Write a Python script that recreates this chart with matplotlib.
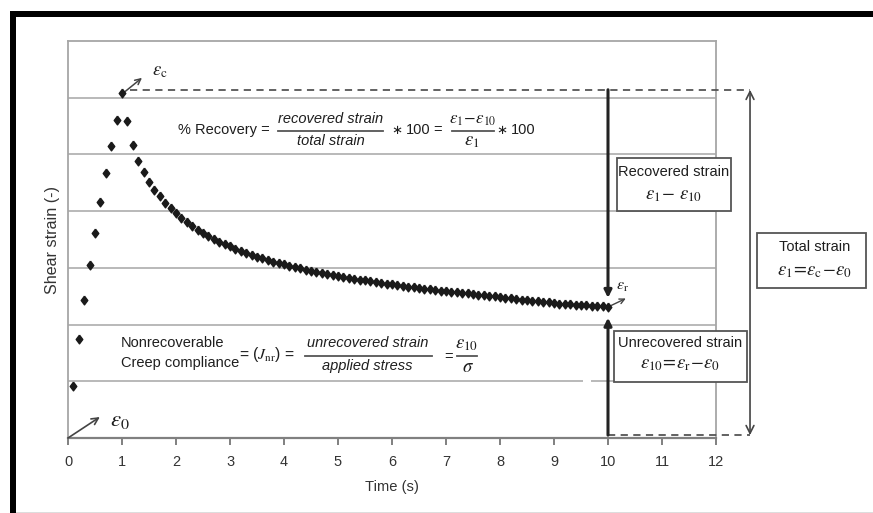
import matplotlib
matplotlib.use('Agg')
import matplotlib.pyplot as plt
from matplotlib import font_manager
from matplotlib.patches import Rectangle

# data (strain in grid units, 0..7)
time_s = [0.1, 0.2, 0.3, 0.4, 0.5, 0.6, 0.7, 0.8, 0.9, 1.0,
          1.1, 1.2, 1.3, 1.4, 1.5, 1.6, 1.7, 1.8, 1.9, 2.0,
          2.1, 2.2, 2.3, 2.4, 2.5, 2.6, 2.7, 2.8, 2.9, 3.0,
          3.1, 3.2, 3.3, 3.4, 3.5, 3.6, 3.7, 3.8, 3.9, 4.0,
          4.1, 4.2, 4.3, 4.4, 4.5, 4.6, 4.7, 4.8, 4.9, 5.0,
          5.1, 5.2, 5.3, 5.4, 5.5, 5.6, 5.7, 5.8, 5.9, 6.0,
          6.1, 6.2, 6.3, 6.4, 6.5, 6.6, 6.7, 6.8, 6.9, 7.0,
          7.1, 7.2, 7.3, 7.4, 7.5, 7.6, 7.7, 7.8, 7.9, 8.0,
          8.1, 8.2, 8.3, 8.4, 8.5, 8.6, 8.7, 8.8, 8.9, 9.0,
          9.1, 9.2, 9.3, 9.4, 9.5, 9.6, 9.7, 9.8, 9.9, 10.0]
shear_strain = [0.91, 1.75, 2.43, 3.05, 3.61, 4.16, 4.68, 5.15, 5.60, 6.08,
                5.59, 5.17, 4.89, 4.69, 4.52, 4.38, 4.26, 4.15, 4.05, 3.96,
                3.88, 3.80, 3.73, 3.67, 3.61, 3.56, 3.51, 3.46, 3.42, 3.38,
                3.34, 3.30, 3.26, 3.23, 3.20, 3.17, 3.14, 3.11, 3.08, 3.06,
                3.03, 3.01, 2.99, 2.97, 2.95, 2.93, 2.91, 2.89, 2.87, 2.86,
                2.84, 2.82, 2.81, 2.79, 2.78, 2.76, 2.75, 2.73, 2.72, 2.71,
                2.69, 2.68, 2.67, 2.66, 2.64, 2.63, 2.62, 2.61, 2.60, 2.59,
                2.58, 2.57, 2.56, 2.55, 2.54, 2.53, 2.52, 2.51, 2.50, 2.48,
                2.47, 2.46, 2.45, 2.44, 2.43, 2.42, 2.41, 2.40, 2.39, 2.38,
                2.37, 2.36, 2.36, 2.35, 2.34, 2.34, 2.33, 2.32, 2.32, 2.31]
x_ticks = [0, 1, 2, 3, 4, 5, 6, 7, 8, 9, 10, 11, 12]
grid_levels = [1, 2, 3, 4, 5, 6]

# narrow font if there is one, else shrink the regular one
try:
    font_manager.findfont('Liberation Sans Narrow', fallback_to_default=False)
    base_font, k = 'Liberation Sans Narrow', 1.0
except ValueError:
    base_font, k = 'Liberation Sans', 0.82
plt.rcParams['font.family'] = [base_font, 'Liberation Sans', 'DejaVu Sans']
plt.rcParams['mathtext.fontset'] = 'stix'

txt = '#1e1e1e'
fs = 12.9 * k
ms_eps = 13.5

fig = plt.figure(figsize=(8.73, 5.13), dpi=100)
ax = fig.add_axes([68 / 873, 75 / 513, 648 / 873, 397 / 513])
ax.set_xlim(0, 12)
ax.set_ylim(0, 7)

# grid lines (the one at 1 has a small break)
for g in grid_levels:
    if g == 1:
        ax.hlines(g, 0, 9.54, color='#b3b3b3', lw=1.3, zorder=1)
        ax.hlines(g, 9.69, 12, color='#b3b3b3', lw=1.3, zorder=1)
    else:
        ax.hlines(g, 0, 12, color='#b3b3b3', lw=1.3, zorder=1)

for s in ['top', 'left', 'right']:
    ax.spines[s].set_color('#a6a6a6')
    ax.spines[s].set_linewidth(1.3)
ax.spines['bottom'].set_color('#808080')
ax.spines['bottom'].set_linewidth(1.6)

ax.set_xticks(x_ticks)
ax.set_yticks([])
ax.tick_params(axis='x', direction='out', length=5, width=1.4, color='#808080',
               pad=7, labelsize=12.7 * k, labelcolor='#333333')
ax.set_xlabel('Time (s)', fontsize=13 * k, labelpad=8, color='#333333')
ax.set_ylabel('Shear strain (-)', fontsize=14.2 * k, labelpad=6, color='#333333')

diamond = [(0, 1), (0.75, 0), (0, -1), (-0.75, 0), (0, 1)]
ax.plot(time_s, shear_strain, ls='none', marker=diamond, ms=6.3,
        color='#1a1a1a', zorder=4, clip_on=False)

# dashed guide lines
ax.plot([1.15, 12.63], [6.14, 6.14], ls='--', dashes=(4, 3), color='#555555',
        lw=1.3, clip_on=False, zorder=3)
ax.plot([10, 12.63], [0.05, 0.05], ls='--', dashes=(4, 3), color='#555555',
        lw=1.3, clip_on=False, zorder=3)

# total strain double arrow
ax.annotate('', xy=(12.63, 6.14), xytext=(12.63, 0.05),
            arrowprops=dict(arrowstyle='<->', lw=1.2, color='#444444',
                            mutation_scale=14, shrinkA=0, shrinkB=0),
            annotation_clip=False)

# thick arrows at t = 10 s
ax.annotate('', xy=(10, 2.47), xytext=(10, 6.14),
            arrowprops=dict(arrowstyle='-|>', lw=2.2, color='#222222',
                            mutation_scale=11, shrinkA=0, shrinkB=0))
ax.annotate('', xy=(10, 2.12), xytext=(10, 0.05),
            arrowprops=dict(arrowstyle='-|>', lw=2.2, color='#222222',
                            mutation_scale=11, shrinkA=0, shrinkB=0))

# small pointer arrows and epsilon labels
ax.annotate('', xy=(1.37, 6.35), xytext=(1.02, 6.08),
            arrowprops=dict(arrowstyle='->', lw=1.1, color='#444444',
                            mutation_scale=10, shrinkA=0, shrinkB=0))
ax.text(1.56, 6.46, r'$\varepsilon_{\mathrm{c}}$', fontsize=13.5, color=txt,
        ha='left', va='center')
ax.annotate('', xy=(0.59, 0.37), xytext=(0.0, 0.0),
            arrowprops=dict(arrowstyle='->', lw=1.2, color='#444444',
                            mutation_scale=12, shrinkA=0, shrinkB=0))
ax.text(0.78, 0.33, r'$\varepsilon_0$', fontsize=16.5, color=txt,
        ha='left', va='center')
ax.annotate('', xy=(10.33, 2.46), xytext=(10.0, 2.31),
            arrowprops=dict(arrowstyle='->', lw=1.0, color='#444444',
                            mutation_scale=9, shrinkA=0, shrinkB=0),
            annotation_clip=False)
ax.text(10.15, 2.67, r'$\varepsilon_{\mathrm{r}}$', fontsize=11.5, color=txt,
        ha='left', va='center')

# % recovery formula
ax.text(2.04, 5.43, '% Recovery =', fontsize=fs, color=txt, ha='left', va='center')
ax.text(4.86, 5.63, 'recovered strain', fontsize=fs, style='italic', color=txt,
        ha='center', va='center')
ax.plot([3.89, 5.83], [5.42, 5.42], color='#555555', lw=1.3)
ax.text(4.86, 5.23, 'total strain', fontsize=fs, style='italic', color=txt,
        ha='center', va='center')
ax.text(6.09, 5.42, '\u2217', fontsize=fs - 1, color=txt, ha='center', va='center')
ax.text(6.26, 5.43, '100', fontsize=fs, color=txt, ha='left', va='center')
ax.text(6.85, 5.43, '=', fontsize=fs, color=txt, ha='center', va='center')
ax.text(7.49, 5.6, r'$\varepsilon_1\!-\!\varepsilon_{10}$', fontsize=12.2,
        color=txt, ha='center', va='center')
ax.plot([7.11, 7.89], [5.42, 5.42], color='#555555', lw=1.3)
ax.text(7.48, 5.22, r'$\varepsilon_1$', fontsize=ms_eps, color=txt,
        ha='center', va='center')
ax.text(8.04, 5.42, '\u2217', fontsize=fs - 1, color=txt, ha='center', va='center')
ax.text(8.21, 5.43, '100', fontsize=fs, color=txt, ha='left', va='center')

# Jnr formula
ax.text(0.98, 1.68, 'Nonrecoverable', fontsize=fs, color=txt, ha='left', va='center')
ax.text(0.98, 1.32, 'Creep compliance', fontsize=fs, color=txt, ha='left', va='center')
ax.text(3.17, 1.47, r'= ($J_{\mathrm{nr}}$) =', fontsize=fs + 0.8, color=txt,
        ha='left', va='center')
ax.text(5.55, 1.68, 'unrecovered strain', fontsize=fs, style='italic', color=txt,
        ha='center', va='center')
ax.plot([4.39, 6.74], [1.45, 1.45], color='#555555', lw=1.3)
ax.text(5.55, 1.27, 'applied stress', fontsize=fs, style='italic', color=txt,
        ha='center', va='center')
ax.text(7.04, 1.43, '=', fontsize=fs, color=txt, ha='center', va='center')
ax.text(7.39, 1.65, r'$\varepsilon_{10}$', fontsize=ms_eps, color=txt,
        ha='center', va='center')
ax.plot([7.2, 7.57], [1.45, 1.45], color='#555555', lw=1.3)
ax.text(7.41, 1.25, r'$\sigma$', fontsize=ms_eps, color=txt, ha='center', va='center')

# boxed labels
boxes = [
    ((10.17, 4.0), 2.11, 0.93, 11.22, 'Recovered strain',
     r'$\varepsilon_1\!-\,\varepsilon_{10}$', 4.69, 4.27),
    ((12.76, 2.65), 2.02, 0.97, 13.83, 'Total strain',
     r'$\varepsilon_1\!=\!\varepsilon_{\mathrm{c}}\!-\!\varepsilon_0$', 3.37, 2.93),
    ((10.11, 0.99), 2.46, 0.90, 11.33, 'Unrecovered strain',
     r'$\varepsilon_{10}\!=\!\varepsilon_{\mathrm{r}}\!-\!\varepsilon_0$', 1.68, 1.29),
]
for xy, w, h, cx, line1, line2, y1, y2 in boxes:
    ax.add_patch(Rectangle(xy, w, h, fc='white', ec='#555555', lw=1.3,
                           clip_on=False, zorder=5))
    ax.text(cx, y1, line1, fontsize=fs, color=txt, ha='center', va='center',
            zorder=6)
    ax.text(cx, y2, line2, fontsize=ms_eps, color=txt, ha='center', va='center',
            zorder=6)

# black frame at top and left of the picture
fig.add_artist(Rectangle((10 / 873, 496 / 513), 1, 6 / 513, fc='black', ec='none',
                         transform=fig.transFigure))
fig.add_artist(Rectangle((10 / 873, 0), 6 / 873, 502 / 513, fc='black', ec='none',
                         transform=fig.transFigure))
fig.add_artist(Rectangle((16 / 873, 0), 1, 1.5 / 513, fc='#dddddd', ec='none',
                         transform=fig.transFigure))

fig.savefig('out.png', dpi=100)
